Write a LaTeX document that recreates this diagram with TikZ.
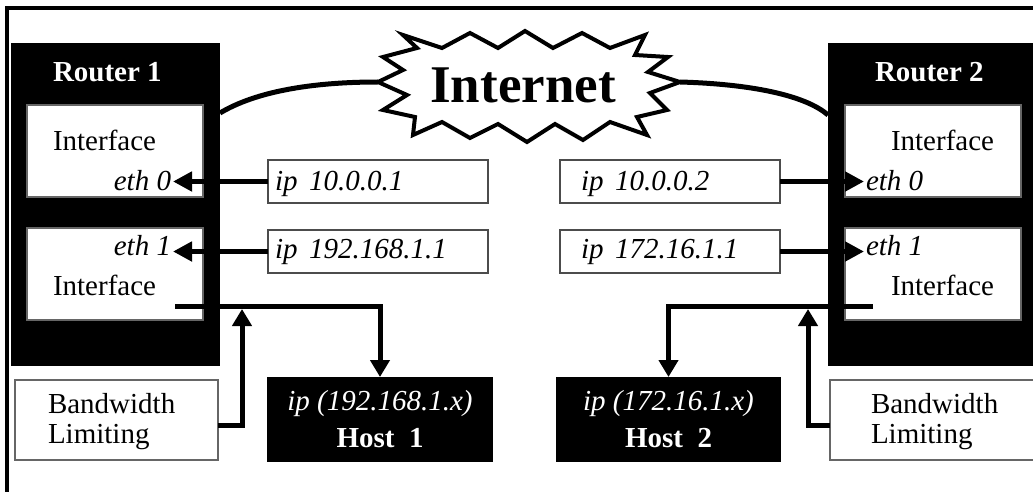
\documentclass[tikz,border=0pt]{standalone}
\usepackage{fontspec}
\setmainfont{Liberation Serif}
\usetikzlibrary{arrows.meta}

\begin{document}
\begin{tikzpicture}[x=1pt,y=-1pt,
  box/.style={inner sep=0pt, outer sep=0pt, anchor=north west},
  router/.style={box, fill=black},
  ifbox/.style={box, fill=white, draw=black!60, line width=1.5pt},
  ipbox/.style={box, fill=white, draw=black!70, line width=1.5pt},
  hostbox/.style={box, fill=black},
  bwbox/.style={box, fill=white, draw=black!60, line width=1.5pt},
  txt/.style={inner sep=0pt, outer sep=0pt, font=\fontsize{29}{33}\selectfont},
  ittxt/.style={txt, font=\fontsize{29}{33}\selectfont\itshape},
  bftxt/.style={txt, font=\fontsize{29}{33}\selectfont\bfseries},
  arr/.style={line width=5.5pt, -{Triangle[length=19pt,width=19pt]}},
  wire/.style={line width=5pt},
]
\useasboundingbox (0,0) rectangle (1033,492);
\fill[white] (0,0) rectangle (1033,492);

% outer frame (top and left edges)
\draw[line width=3.5pt] (7,492) -- (7,8) -- (1033,8);

% ---------------- Router 1 ----------------
\node[router, minimum width=209pt, minimum height=323pt] (r1) at (11,43) {};
\node[bftxt, text=white, anchor=base west] (r1t) at (53,82) {Router 1};
\node[ifbox, minimum width=176pt, minimum height=92pt] (if1a) at (27,105) {};
\node[ifbox, minimum width=176pt, minimum height=92pt] (if1b) at (27,228) {};
\node[txt, anchor=base west] (if1at) at (53,150) {Interface};
\node[ittxt, anchor=base east, inner xsep=2pt] (eth10) at (173,190) {eth 0};
\node[ittxt, anchor=base east, inner xsep=2pt] (eth11) at (173,255) {eth 1};
\node[txt, anchor=base west] (if1bt) at (53,295) {Interface};

% ---------------- Router 2 ----------------
\node[router, minimum width=205pt, minimum height=323pt] (r2) at (828,43) {};
\node[bftxt, text=white, anchor=base west] (r2t) at (875,82) {Router 2};
\node[ifbox, minimum width=176pt, minimum height=92pt] (if2a) at (845,105) {};
\node[ifbox, minimum width=176pt, minimum height=92pt] (if2b) at (845,228) {};
\node[txt, anchor=base west] (if2at) at (891,150) {Interface};
\node[ittxt, anchor=base west, inner xsep=2pt] (eth20) at (864,190) {eth 0};
\node[ittxt, anchor=base west, inner xsep=2pt] (eth21) at (864,255) {eth 1};
\node[txt, anchor=base west] (if2bt) at (891,295) {Interface};

% ---------------- address boxes ----------------
\node[ipbox, minimum width=220pt, minimum height=43pt] (ip1a) at (268,160) {};
\node[ittxt, anchor=base west] at (275,190) {ip\hspace{.4em}10.0.0.1};
\node[ipbox, minimum width=220pt, minimum height=43pt] (ip1b) at (268,230) {};
\node[ittxt, anchor=base west] at (275,258) {ip\hspace{.4em}192.168.1.1};
\node[ipbox, minimum width=220pt, minimum height=43pt] (ip2a) at (560,160) {};
\node[ittxt, anchor=base west] at (581,190) {ip\hspace{.4em}10.0.0.2};
\node[ipbox, minimum width=220pt, minimum height=43pt] (ip2b) at (560,230) {};
\node[ittxt, anchor=base west] at (581,258) {ip\hspace{.4em}172.16.1.1};

\draw[arr] (ip1a.west) -- (eth10.east |- ip1a.west);
\draw[arr] (ip1b.west) -- (eth11.east |- ip1b.west);
\draw[arr] (ip2a.east) -- (eth20.west |- ip2a.east);
\draw[arr] (ip2b.east) -- (eth21.west |- ip2b.east);

% ---------------- hosts ----------------
\node[hostbox, minimum width=226pt, minimum height=85pt] (h1) at (267,377) {};
\node[ittxt, text=white, anchor=base] at (h1.center |- 0,410) {ip (192.168.1.x)};
\node[bftxt, text=white, anchor=base] at (h1.center |- 0,447) {Host\hspace{.5em}1};
\node[hostbox, minimum width=225pt, minimum height=85pt] (h2) at (556,377) {};
\node[ittxt, text=white, anchor=base] at (h2.center |- 0,410) {ip (172.16.1.x)};
\node[bftxt, text=white, anchor=base] at (h2.center |- 0,447) {Host\hspace{.5em}2};

% ---------------- bandwidth limiting ----------------
\node[bwbox, minimum width=203pt, minimum height=80pt] (bw1) at (15,380) {};
\node[txt, anchor=base west] at (48,413) {Bandwidth};
\node[txt, anchor=base west] at (48,443) {Limiting};
\node[bwbox, minimum width=205pt, minimum height=80pt] (bw2) at (830,380) {};
\node[txt, anchor=base west] at (871,413) {Bandwidth};
\node[txt, anchor=base west] at (871,443) {Limiting};

% host links leaving the second interfaces
\coordinate (o1) at (175,306);
\coordinate (o2) at (873,306);
\draw[wire, -{Triangle[length=17pt,width=19pt]}] (o1) -| (h1.north);
\draw[wire, -{Triangle[length=17pt,width=19pt]}] (o2) -| (h2.north);

% shaping inputs
\coordinate (j1) at (242,309);
\coordinate (j2) at (808,309);
\draw[wire, -{Triangle[length=17pt,width=19pt]}] ([yshift=-5pt]bw1.east) -| (j1);
\draw[wire, -{Triangle[length=17pt,width=19pt]}] ([yshift=-5pt]bw2.west) -| (j2);

% ---------------- Internet cloud ----------------
\coordinate (inL) at (378,82);
\coordinate (inR) at (680,82);
\draw[line width=4pt, fill=white, line join=miter, miter limit=10]
  (403,35) -- (442,48) -- (470,33) -- (498,48) -- (525,31) -- (553,48)
  -- (582,33) -- (610,48) -- (645,35) -- (635,55) -- (668,57) -- (648,72)
  -- (inR) -- (650,93) -- (667,110) -- (637,117) -- (647,135) -- (610,122)
  -- (583,140) -- (555,124) -- (527,142) -- (498,124) -- (470,138) -- (442,122)
  -- (413,135) -- (415,117) -- (383,110) -- (407,95) -- (inL) -- (403,70)
  -- (383,57) -- (417,48) -- cycle;
\node[inner sep=0pt, font=\fontsize{53}{60}\selectfont\bfseries, anchor=base] (inet) at (523,103) {Internet};

\draw[wire] (r1.east |- 0,113) .. controls (255,92) and (310,82) .. (inL);
\draw[wire] (inR) .. controls (750,84) and (805,95) .. (r2.west |- 0,115);
\end{tikzpicture}
\end{document}
